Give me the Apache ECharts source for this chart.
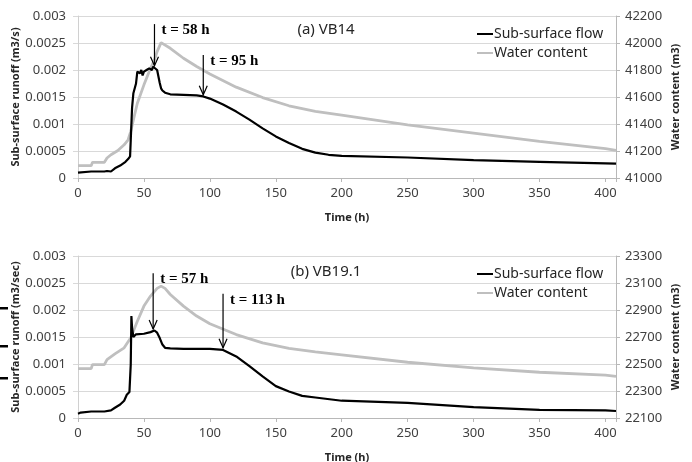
<!DOCTYPE html>
<html>
<head>
<meta charset="utf-8">
<script src="https://cdn.jsdelivr.net/npm/echarts@6/dist/echarts.min.js"></script>
<style>html,body{margin:0;padding:0;background:#fff;}#c{width:692px;height:462px;}</style>
</head>
<body>
<div id="c"></div>
<script>
// ---- data ----
const xTicks = [0, 50, 100, 150, 200, 250, 300, 350, 400];
// (a) VB14 sub-surface flow
const tA = [0,10,20,22,25,28,32,36,38,39.5,40,41,42,43,44,45,46,47,48,49,50,52,54,56,57,58,60,61,62,63,64,66,70,80,90,95,100,110,120,130,140,150,160,170,180,190,200,250,300,350,400,408];
const vA = [0.0001,0.00012,0.00012,0.00013,0.00012,0.00018,0.00023,0.0003,0.00035,0.0004,0.0007,0.0013,0.00157,0.0016,0.00175,0.00197,0.002,0.00194,0.002,0.0019,0.00197,0.002,0.00203,0.002,0.00206,0.00207,0.002,0.00188,0.00176,0.00166,0.00162,0.00158,0.00155,0.00154,0.00153,0.00151,0.00147,0.00136,0.00123,0.00108,0.00092,0.00077,0.00065,0.00054,0.00047,0.00043,0.00041,0.00038,0.00033,0.0003,0.00027,0.000265];
// (a) VB14 water content
const wtA = [0,10,11,20,22,25,30,35,38,40,42,45,50,55,58,60,63,64,70,80,90,100,120,140,160,180,200,250,300,350,400,408];
const wvA = [41091,41091,41116,41116,41148,41172,41202,41246,41283,41345,41431,41554,41690,41813,41875,41936,42003,42010,41961,41887,41826,41771,41673,41596,41535,41493,41465,41394,41333,41271,41217,41205];
// (b) VB19.1 sub-surface flow
const tB = [0,2,10,20,25,28,32,35,37,39,40,40.5,41,42,44,50,55,58,60,62,64,66,70,80,100,110,120,130,140,150,160,170,180,200,250,300,350,400,408];
const vB = [0.00008,0.0001,0.00012,0.00012,0.00014,0.00019,0.00025,0.00032,0.00043,0.00048,0.00099,0.00189,0.00167,0.0015,0.00155,0.00156,0.00159,0.00162,0.00158,0.00148,0.00136,0.0013,0.00129,0.00128,0.00128,0.00126,0.00114,0.00096,0.00077,0.00059,0.00049,0.00041,0.00038,0.00032,0.00028,0.0002,0.00015,0.00014,0.00013];
// (b) VB19.1 water content
const wtB = [0,10,11,20,22,28,35,40,45,50,55,60,63,66,70,80,90,100,120,140,160,180,200,250,300,350,400,408];
const wvB = [22466,22466,22496,22496,22533,22575,22620,22694,22817,22929,23003,23060,23077,23060,23015,22929,22855,22798,22718,22657,22615,22590,22568,22513,22471,22439,22417,22409];
// arrow annotations: [time, arrow top value, arrow tip value, label]
const arrowsA = [[58, 0.00285, 0.00208, 't = 58 h'], [95, 0.00228, 0.00154, 't = 95 h']];
const arrowsB = [[57, 0.00268, 0.00165, 't = 57 h'], [110, 0.0023, 0.0013, 't = 113 h']];
const panelTitles = ['(a) VB14', '(b) VB19.1'];
const seriesNames = ['Sub-surface flow', 'Water content'];

const zip = (a, b) => a.map((x, i) => [x, b[i]]);

const chart = echarts.init(document.getElementById('c'));
const FONT = 'Noto Sans';
const tickColor = '#404040';
const axisLineColor = '#b8b8b8';
const gridColor = '#d9d9d9';

function xAxis(gi) {
  return {
    type: 'value', gridIndex: gi, min: 0, max: 408, interval: 50,
    name: 'Time (h)', nameLocation: 'middle', nameGap: 34, nameMoveOverlap: false,
    nameTextStyle: { fontFamily: FONT, fontSize: 11, fontWeight: 'bold', color: '#262626' },
    axisLine: { show: true, onZero: false, lineStyle: { color: axisLineColor } },
    axisTick: { show: true, length: 4, lineStyle: { color: axisLineColor } },
    axisLabel: { fontFamily: FONT, fontSize: 13, color: tickColor, margin: 9,
      formatter: v => (xTicks.indexOf(v) >= 0 ? String(v) : '') },
    splitLine: { show: false }
  };
}
function yLeft(gi, name) {
  return {
    type: 'value', gridIndex: gi, position: 'left', min: 0, max: 0.003, interval: 0.0005,
    name: name, nameLocation: 'middle', nameGap: 57, nameRotate: 90, nameMoveOverlap: false,
    nameTextStyle: { fontFamily: FONT, fontSize: 11, fontWeight: 'bold', color: '#262626' },
    axisLine: { show: true, lineStyle: { color: '#d0d0d0' } },
    axisTick: { show: true, length: 5, lineStyle: { color: gridColor } },
    axisLabel: { fontFamily: FONT, fontSize: 13, color: tickColor, margin: 12,
      formatter: v => String(+v.toFixed(4)) },
    splitLine: { show: true, lineStyle: { color: gridColor } }
  };
}
function yRight(gi, min, max) {
  return {
    type: 'value', gridIndex: gi, position: 'right', min: min, max: max, interval: 200,
    name: 'Water content (m3)', nameLocation: 'middle', nameGap: 54, nameRotate: 90, nameMoveOverlap: false,
    nameTextStyle: { fontFamily: FONT, fontSize: 11, fontWeight: 'bold', color: '#262626' },
    axisLine: { show: true, lineStyle: { color: axisLineColor } },
    axisTick: { show: true, length: 4, lineStyle: { color: axisLineColor } },
    axisLabel: { fontFamily: FONT, fontSize: 13, color: tickColor, margin: 9,
      formatter: v => String(v) },
    splitLine: { show: false }
  };
}
function legend(top) {
  return {
    orient: 'vertical', left: 471, top: top, itemWidth: 16, itemHeight: 14, itemGap: 5,
    data: seriesNames,
    itemStyle: { opacity: 0 },
    textStyle: { fontFamily: FONT, fontSize: 14, color: '#262626', padding: [0, 0, 0, -4] }
  };
}

chart.setOption({
  animation: false,
  backgroundColor: '#fff',
  grid: [
    { left: 78, right: 76, top: 16, height: 162, containLabel: false, outerBoundsMode: 'none' },
    { left: 78, right: 76, top: 256, height: 162, containLabel: false, outerBoundsMode: 'none' }
  ],
  legend: [legend(22), legend(262)],
  xAxis: [xAxis(0), xAxis(1)],
  yAxis: [
    yLeft(0, 'Sub-surface runoff (m3/s)'), yRight(0, 41000, 42200),
    yLeft(1, 'Sub-surface runoff (m3/sec)'), yRight(1, 22100, 23300)
  ],
  series: [
    { name: seriesNames[0], type: 'line', xAxisIndex: 0, yAxisIndex: 0, symbol: 'none', data: zip(tA, vA),
      lineStyle: { color: '#000', width: 2.2 }, itemStyle: { color: '#000' }, z: 3 },
    { name: seriesNames[1], type: 'line', xAxisIndex: 0, yAxisIndex: 1, symbol: 'none', data: zip(wtA, wvA),
      lineStyle: { color: '#bfbfbf', width: 2.8 }, itemStyle: { color: '#bfbfbf' }, z: 2 },
    { name: seriesNames[0], type: 'line', xAxisIndex: 1, yAxisIndex: 2, symbol: 'none', data: zip(tB, vB),
      lineStyle: { color: '#000', width: 2.2 }, itemStyle: { color: '#000' }, z: 3 },
    { name: seriesNames[1], type: 'line', xAxisIndex: 1, yAxisIndex: 3, symbol: 'none', data: zip(wtB, wvB),
      lineStyle: { color: '#bfbfbf', width: 2.8 }, itemStyle: { color: '#bfbfbf' }, z: 2 }
  ]
});

// annotations placed through the axes' own scales
const graphics = [];
function addArrows(arrows, xi, yi) {
  arrows.forEach(a => {
    const p1 = chart.convertToPixel({ xAxisIndex: xi, yAxisIndex: yi }, [a[0], a[1]]);
    const p2 = chart.convertToPixel({ xAxisIndex: xi, yAxisIndex: yi }, [a[0], a[2]]);
    graphics.push({ type: 'line', shape: { x1: p1[0], y1: p1[1], x2: p2[0], y2: p2[1] },
      style: { stroke: '#000', lineWidth: 1.2 }, z: 10 });
    graphics.push({ type: 'polyline', shape: { points: [[p2[0] - 4, p2[1] - 9], [p2[0], p2[1]], [p2[0] + 4, p2[1] - 9]] },
      style: { stroke: '#000', lineWidth: 1.2, fill: null }, z: 10 });
    graphics.push({ type: 'text', x: p1[0] + 7, y: p1[1] + 6, z: 10,
      style: { text: a[3], font: 'bold 15px "Liberation Serif"', fill: '#000', verticalAlign: 'middle' } });
  });
}
addArrows(arrowsA, 0, 0);
addArrows(arrowsB, 1, 2);
graphics.push({ type: 'text', x: 326, y: 30, style: { text: panelTitles[0], font: '15px "Noto Sans"', fill: '#262626', align: 'center', verticalAlign: 'middle' } });
graphics.push({ type: 'text', x: 326, y: 272, style: { text: panelTitles[1], font: '15px "Noto Sans"', fill: '#262626', align: 'center', verticalAlign: 'middle' } });
[308, 346, 378].forEach((y, i) => graphics.push({ id: 'dash' + i, type: 'rect', z: 20, shape: { x: 0, y: y - 1, width: 8, height: 2.5 }, style: { fill: '#000' } }));
chart.setOption({ graphic: graphics });
</script>
</body>
</html>
